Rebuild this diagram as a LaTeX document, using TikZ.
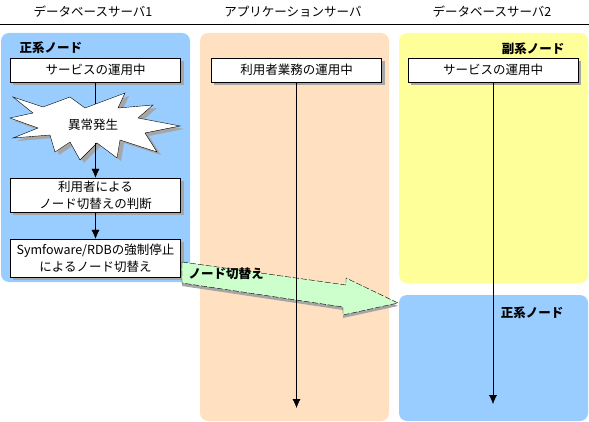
\documentclass[tikz,border=0pt]{standalone}
\usepackage{fontspec}
\setmainfont{Noto Sans CJK JP}
\usetikzlibrary{arrows.meta,calc}

\definecolor{dbblue}{RGB}{153,204,255}
\definecolor{appbeige}{RGB}{255,224,192}
\definecolor{subyellow}{RGB}{255,255,153}
\definecolor{movegreen}{RGB}{204,255,204}

\pgfdeclarelayer{panels}
\pgfdeclarelayer{shade}
\pgfsetlayers{panels,shade,main}

% grey shadow below and right of a box
\newcommand{\boxshade}[1]{%
  \begin{pgfonlayer}{shade}
    \fill[gray!70] ($(#1.north west)+(3,3)$) rectangle ($(#1.south east)+(3,3)$);
  \end{pgfonlayer}}

\begin{document}
\begin{tikzpicture}[x=1pt,y=-1pt,line width=1pt,
    font=\fontsize{12.5}{17}\selectfont,
    panel/.style={rounded corners=8pt,draw=none},
    stepbox/.style={draw,fill=white,minimum width=170pt,inner sep=0pt,align=center},
    lbl/.style={font=\fontsize{12.5}{15}\selectfont\bfseries},
    flow/.style={-{Latex[width=8pt,length=9pt]}}]
  \useasboundingbox (0,0) rectangle (589,422);

  % headers
  \node (db1) at (93,12) {データベースサーバ1};
  \node (app) at (293,12) {アプリケーションサーバ};
  \node (db2) at (492,12) {データベースサーバ2};
  \draw (0,25) -- (589,25);

  % panels
  \begin{pgfonlayer}{panels}
    \fill[panel,dbblue] (1,33) rectangle (190,282);
    \fill[panel,appbeige] (200,33) rectangle (389,421);
    \fill[panel,subyellow] (399,33) rectangle (588,283);
    \fill[panel,dbblue] (399,295) rectangle (588,421);
  \end{pgfonlayer}

  \node[lbl,anchor=west] (main1) at (16,48) {正系ノード};
  \node[lbl,anchor=east] (sub2) at (568,49) {副系ノード};
  \node[lbl,anchor=east] (main2) at (567,313) {正系ノード};

  % database server 1
  \node[stepbox,minimum height=24pt] (svc1) at (95.5,70) {サービスの運用中};
  \boxshade{svc1}
  \coordinate (faulttop) at (95.5,106);
  \coordinate (faultbot) at (95.5,143);
  \draw (svc1.south) -- (faulttop);
  \def\burst{(13,97) -- (43,107) -- (70,97) -- (85,108) -- (125,93) -- (118,108)
    -- (153,105) -- (138,118) -- (180,126) -- (145,133) -- (157,152) -- (120,140)
    -- (117,158) -- (97,143) -- (80,160) -- (70,142) -- (55,152) -- (50,135)
    -- (13,138) -- (38,128) -- (10,118) -- (33,113) -- cycle}
  \fill[gray!70,shift={(4,3)}] \burst;
  \draw[fill=white,line join=miter] \burst;
  \node (fault) at (93,125) {異常発生};

  \node[stepbox,minimum height=34pt] (judge) at (95.5,195) {利用者による\\ノード切替えの判断};
  \boxshade{judge}
  \node[stepbox,minimum height=38pt] (stop) at (95.5,258) {Symfoware/RDBの強制停止\\によるノード切替え};
  \boxshade{stop}
  \draw[flow] (faultbot) -- (judge.north);
  \draw[flow] (judge.south) -- (stop.north);

  % switch-over arrow
  \def\move{(182,262) -- (346,285) -- (346,278) -- (398,303) -- (343,315)
    -- (343,307) -- (182,283) -- cycle}
  \fill[gray!70,shift={(0,3)}] \move;
  \draw[fill=movegreen,dash pattern=on 6pt off 2pt] \move;
  \node[lbl] (movelbl) at (226,274) {ノード切替え};

  % application server
  \node[stepbox,minimum height=24pt] (work) at (296.5,70) {利用者業務の運用中};
  \boxshade{work}
  \coordinate (workend) at (295,408);
  \draw[flow] (work.south) -- (work.south |- workend);

  % database server 2
  \node[stepbox,minimum height=24pt] (svc2) at (493,70) {サービスの運用中};
  \boxshade{svc2}
  \coordinate (svc2end) at (492,404);
  \draw[flow] (svc2.south) -- (svc2.south |- svc2end);
\end{tikzpicture}
\end{document}
